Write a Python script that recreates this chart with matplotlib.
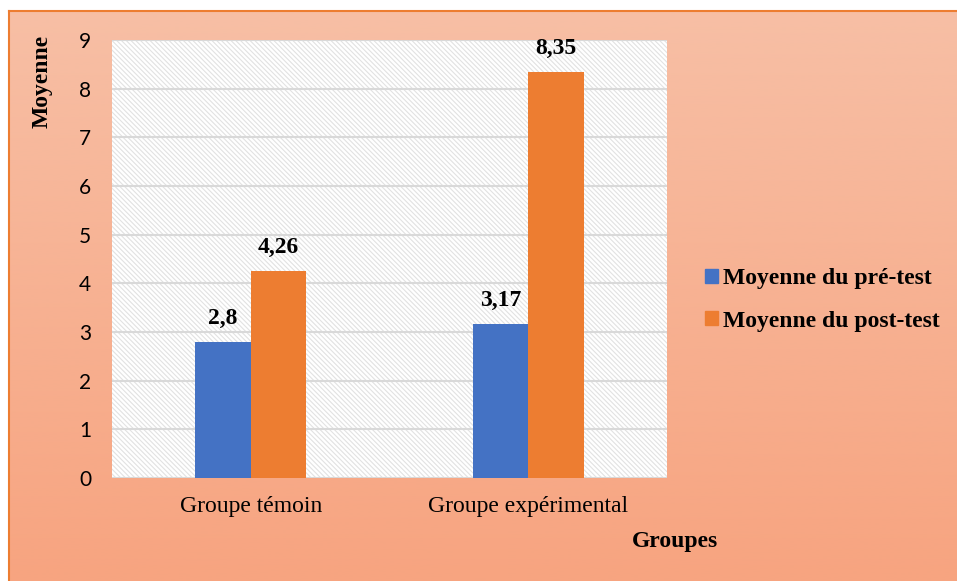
import matplotlib.pyplot as plt
import numpy as np
from matplotlib.patches import Rectangle, Patch

groupes = ['Groupe témoin', 'Groupe expérimental']
pre_test = [2.8, 3.17]
post_test = [4.26, 8.35]
labels_pre = ['2,8', '3,17']
labels_post = ['4,26', '8,35']
series_names = ['Moyenne du pré-test', 'Moyenne du post-test']

bleu = '#4472C4'
orange = '#ED7D31'
serif = 'Liberation Serif'
plt.rcParams['hatch.linewidth'] = 0.8

fig = plt.figure(figsize=(9.57, 5.81), dpi=100)
fig.patch.set_facecolor('white')

# peach gradient panel behind the chart
bg = fig.add_axes([9 / 957, 0, 1 - 9 / 957, 1 - 11 / 581])
grad = np.linspace(0, 1, 256).reshape(-1, 1)
top = np.array([247, 191, 165]) / 255
bot = np.array([247, 164, 128]) / 255
img = top + (bot - top) * grad[..., None]
bg.imshow(img, aspect='auto', extent=[0, 1, 0, 1])
bg.set_xlim(0, 1)
bg.set_ylim(0, 1)
bg.set_xticks([])
bg.set_yticks([])
for s in ['right', 'bottom']:
    bg.spines[s].set_visible(False)
for s in ['left', 'top']:
    bg.spines[s].set_color('#ED7D31')
    bg.spines[s].set_linewidth(1.5)

ax = fig.add_axes([112 / 957, 1 - 478 / 581, 555 / 957, 438 / 581])
ax.set_facecolor('white')
ax.add_patch(Rectangle((0, 0), 1, 1, transform=ax.transAxes, facecolor='white',
                       edgecolor='#e2e2e2', hatch='\\' * 7, linewidth=0, zorder=0))

x = np.arange(len(groupes))
w = 0.2
b1 = ax.bar(x - w / 2, pre_test, w, color=bleu, zorder=3, label=series_names[0])
b2 = ax.bar(x + w / 2, post_test, w, color=orange, zorder=3, label=series_names[1])

for bars, labs in [(b1, labels_pre), (b2, labels_post)]:
    for bar, lab in zip(bars, labs):
        ax.text(bar.get_x() + bar.get_width() / 2, bar.get_height() + 0.26, lab,
                ha='center', va='bottom', fontsize=17, fontweight='bold',
                family=serif, zorder=4)

ax.set_xlim(-0.5, 1.5)
ax.set_ylim(0, 9)
ax.set_yticks(range(0, 10))
ax.yaxis.grid(True, color='#d9d9d9', linewidth=1.5, zorder=1)
ax.set_axisbelow(True)
for s in ax.spines.values():
    s.set_visible(False)
ax.tick_params(length=0)
ax.tick_params(axis='y', labelsize=15, pad=15)
for t in ax.get_yticklabels():
    t.set_family('Lato')
ax.set_xticks(x)
ax.set_xticklabels(groupes, fontsize=17, family=serif)
ax.tick_params(axis='x', pad=13)

fig.text(42 / 957, 1 - 81 / 581, 'Moyenne', rotation=90, ha='center', va='center',
         fontsize=17, fontweight='bold', family=serif)
fig.text(675 / 957, 1 - 542 / 581, 'Groupes', ha='center', va='center',
         fontsize=17, fontweight='bold', family=serif)

handles = [Patch(color=bleu), Patch(color=orange)]
fig.legend(handles, series_names, loc='center left', bbox_to_anchor=(705 / 957, 1 - 300 / 581),
           frameon=False, prop={'family': serif, 'weight': 'bold', 'size': 17},
           handlelength=0.55, handleheight=0.55, handletextpad=0.2, labelspacing=0.9,
           borderaxespad=0, borderpad=0)

fig.savefig('out.png', dpi=100)
